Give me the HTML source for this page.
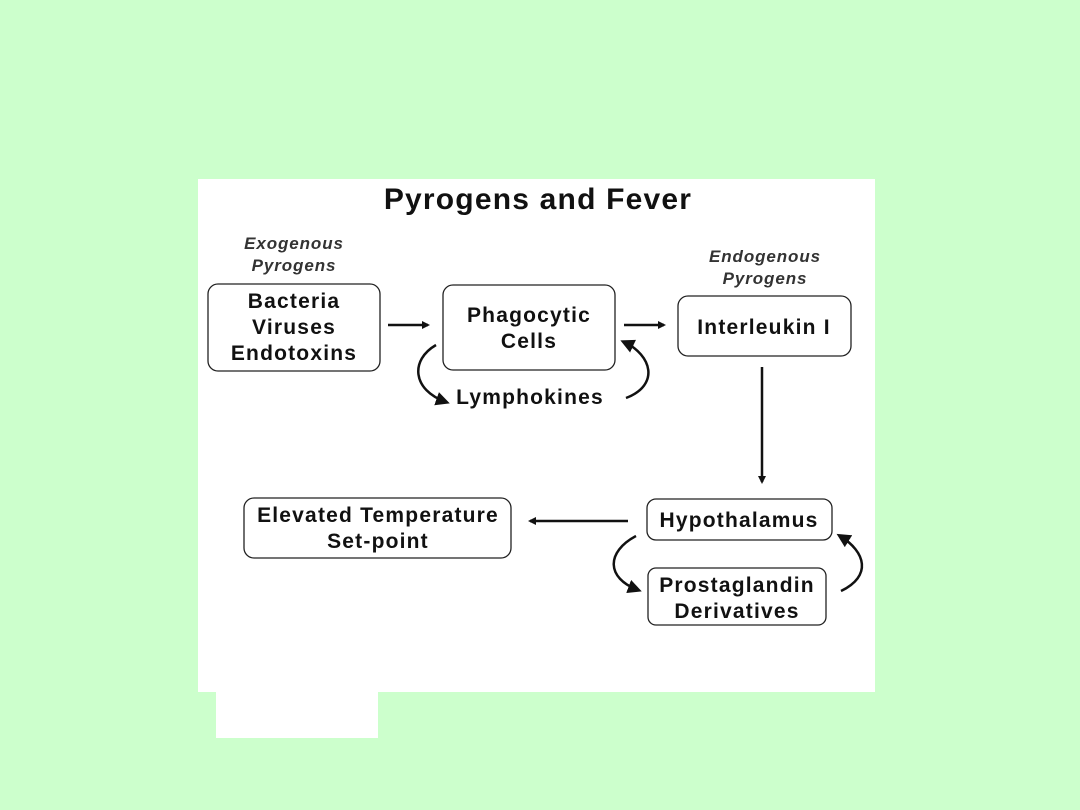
<!DOCTYPE html>
<html><head><style>
html,body{margin:0;padding:0;background:#ccffcc;width:1080px;height:810px;overflow:hidden}
svg{position:absolute;left:0;top:0}
text{font-family:"Liberation Sans",Arial,sans-serif;fill:#111}
.b{font-weight:bold;font-size:21px;letter-spacing:1.2px}
.i{font-style:italic;font-weight:bold;font-size:17px;letter-spacing:0.9px;fill:#333}
rect.n{fill:#fff;stroke:#222;stroke-width:1.3}
path.c{fill:none;stroke:#111;stroke-width:2.5}
</style></head><body>
<svg width="1080" height="810" viewBox="0 0 1080 810">
<defs><marker id="a" markerWidth="8" markerHeight="8" refX="6" refY="4" orient="auto" markerUnits="userSpaceOnUse"><path d="M0,0 L8,4 L0,8z" fill="#111"/></marker>
<marker id="b" markerWidth="14" markerHeight="14" refX="10" refY="7" orient="auto" markerUnits="userSpaceOnUse"><path d="M0,0 L14,7 L0,14z" fill="#111"/></marker></defs>
<rect x="198" y="179" width="677" height="513" fill="#fff"/>
<rect x="216" y="692" width="162" height="46" fill="#fff"/>
<text x="538" y="209" text-anchor="middle" style="font-weight:bold;font-size:30px;letter-spacing:1.2px">Pyrogens and Fever</text>
<text class="i" x="294" y="249" text-anchor="middle">Exogenous</text>
<text class="i" x="294" y="271" text-anchor="middle">Pyrogens</text>
<text class="i" x="765" y="262" text-anchor="middle">Endogenous</text>
<text class="i" x="765" y="284" text-anchor="middle">Pyrogens</text>
<rect class="n" x="208" y="284" width="172" height="87" rx="10"/>
<text class="b" x="294" y="308" text-anchor="middle">Bacteria</text>
<text class="b" x="294" y="334" text-anchor="middle">Viruses</text>
<text class="b" x="294" y="360" text-anchor="middle">Endotoxins</text>
<rect class="n" x="443" y="285" width="172" height="85" rx="10"/>
<text class="b" x="529" y="322" text-anchor="middle">Phagocytic</text>
<text class="b" x="529" y="348" text-anchor="middle">Cells</text>
<rect class="n" x="678" y="296" width="173" height="60" rx="10"/>
<text class="b" x="764" y="334" text-anchor="middle">Interleukin I</text>
<text class="b" x="530" y="404" text-anchor="middle">Lymphokines</text>
<rect class="n" x="647" y="499" width="185" height="41" rx="9"/>
<text class="b" x="739" y="527" text-anchor="middle">Hypothalamus</text>
<rect class="n" x="648" y="568" width="178" height="57" rx="8"/>
<text class="b" x="737" y="592" text-anchor="middle">Prostaglandin</text>
<text class="b" x="737" y="618" text-anchor="middle">Derivatives</text>
<rect class="n" x="244" y="498" width="267" height="60" rx="10"/>
<text class="b" x="378" y="522" text-anchor="middle">Elevated Temperature</text>
<text class="b" x="378" y="548" text-anchor="middle">Set-point</text>
<path class="c" d="M388 325 L428 325" stroke-width="2" marker-end="url(#a)"/>
<path class="c" d="M624 325 L664 325" stroke-width="2" marker-end="url(#a)"/>
<path class="c" d="M762 367 L762 482" stroke-width="1.5" marker-end="url(#a)"/>
<path class="c" d="M628 521 L530 521" stroke-width="1.5" marker-end="url(#a)"/>
<path class="c" d="M436 345 C410 360 412 390 446 402" marker-end="url(#b)"/>
<path class="c" d="M626 398 C660 385 652 355 624 342" marker-end="url(#b)"/>
<path class="c" d="M636 536 C606 552 606 578 638 590" marker-end="url(#b)"/>
<path class="c" d="M841 591 C872 576 866 552 840 536" marker-end="url(#b)"/>
</svg>
</body></html>
